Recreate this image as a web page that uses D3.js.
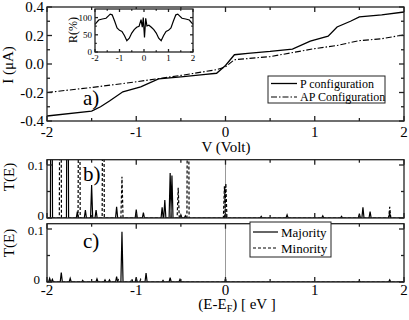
<!DOCTYPE html>
<html>
<head>
<meta charset="utf-8">
<script src="https://cdn.jsdelivr.net/npm/d3@7"></script>
<style>
  body { margin: 0; background: #fff; }
  svg { display: block; }
  svg text { font-family: "Liberation Serif", "Times New Roman", "DejaVu Serif", serif; }
</style>
</head>
<body>
<div id="chart"></div>
<script>
const WIDTH = 409;
const HEIGHT = 320;

// (a) I-V curves
const pV = [-2, -1.5, -1.4, -1.3, -1.15, -0.95, -0.75, -0.5, -0.25, -0.1, 0, 0.1, 0.25, 0.5, 0.75, 0.95, 1.15, 1.25, 1.4, 1.5, 1.75, 2];
const pI = [-0.365, -0.33, -0.3, -0.26, -0.195, -0.16, -0.105, -0.09, -0.075, -0.065, -0.01, 0.065, 0.075, 0.088, 0.105, 0.16, 0.195, 0.26, 0.3, 0.33, 0.345, 0.365];
const apV = [-2, -1.5, -1, -0.5, -0.1, 0, 0.1, 0.5, 1, 1.25, 1.5, 1.75, 2];
const apI = [-0.2, -0.165, -0.125, -0.08, -0.04, -0.02, 0.03, 0.052, 0.108, 0.13, 0.164, 0.177, 0.205];

// inset R(%)
const rV = [-2, -1.85, -1.7, -1.55, -1.45, -1.38, -1.3, -1.2, -1.1, -1.0, -0.9, -0.8, -0.7, -0.6, -0.5, -0.4, -0.3, -0.2, -0.12, -0.07, -0.03, 0.02, 0.07, 0.12, 0.2, 0.3, 0.4, 0.5, 0.6, 0.7, 0.8, 0.9, 1.0, 1.1, 1.2, 1.3, 1.38, 1.45, 1.55, 1.7, 1.85, 2];
const rR = [80, 93, 96, 98, 105, 110, 108, 90, 70, 63, 60, 48, 33, 40, 55, 65, 72, 75, 94, 72, 100, 42, 98, 76, 78, 72, 65, 55, 40, 33, 48, 60, 63, 70, 90, 108, 110, 105, 98, 96, 93, 80];

// (b) T(E) peaks [energy, height]; tall ones run off the top
const majB = [[-1.95, 0.6], [-1.77, 0.6], [-1.66, 0.012], [-1.57, 0.015], [-1.5, 0.062], [-1.45, 0.015], [-1.22, 0.021], [-1.0, 0.016], [-0.92, 0.01], [-0.71, 0.02], [-0.68, 0.034], [-0.62, 0.085], [-0.6, 0.08], [-0.5, 0.006], [-0.45, 0.004], [0.0, 0.008], [0.4, 0.003], [0.69, 0.006], [1.09, 0.004], [1.3, 0.003], [1.5, 0.008], [1.54, 0.02], [1.62, 0.012], [1.84, 0.01]];
const minB = [[-1.85, 0.6], [-1.64, 0.6], [-1.37, 0.6], [-1.16, 0.078], [-0.53, 0.057], [-0.42, 0.6], [-0.012, 0.06], [0.004, 0.065], [1.84, 0.021]];
// (c)
const majC = [[-1.97, 0.007], [-1.94, 0.005], [-1.84, 0.018], [-1.74, 0.007], [-1.6, 0.003], [-1.44, 0.006], [-1.35, 0.004], [-1.3, 0.004], [-1.22, 0.01], [-1.16, 0.095], [-1.0, 0.008], [-0.89, 0.017], [-0.7, 0.003], [-0.62, 0.008], [-0.51, 0.005], [0.0, 0.004], [1.5, 0.002], [1.84, 0.004]];
const minC = [[-1.2, 0.004], [-1.05, 0.006], [-0.95, 0.005], [0.0, 0.006]];

const xTicks = [-2, -1, 0, 1, 2];
const xMinor = [-1.5, -0.5, 0.5, 1.5];
const ivTicks = [-0.4, -0.2, 0, 0.2, 0.4];
const ivMinor = [-0.3, -0.1, 0.1, 0.3];
const tTicks = [0, 0.1];
const tMinor = [0.05];
const rTicks = [0, 50, 100];
const rMinor = [25, 75];

const svg = d3.select('#chart').append('svg')
  .attr('width', WIDTH)
  .attr('height', HEIGHT)
  .attr('font-family', '"Liberation Serif", "Times New Roman", serif');

const x = d3.scaleLinear().domain([-2, 2]).range([47, 404]);
const yIV = d3.scaleLinear().domain([-0.4, 0.4]).range([121, 7]);
const yB = d3.scaleLinear().domain([0, 0.11]).range([218, 159.7]);
const yC = d3.scaleLinear().domain([0, 0.11]).range([282, 223.7]);

// frame with inward ticks on all four sides
function frame(xs, ys, xMaj, xMin, yMaj, yMin, len) {
  const [x0, x1] = xs.range();
  const [y0, y1] = ys.range();
  const g = svg.append('g').attr('stroke', '#222').attr('stroke-width', 1.3);
  g.append('rect')
    .attr('x', x0).attr('y', y1)
    .attr('width', x1 - x0).attr('height', y0 - y1)
    .attr('fill', 'none');
  const xt = xMaj.map((v) => [v, len]).concat(xMin.map((v) => [v, len * 0.6]));
  const yt = yMaj.map((v) => [v, len]).concat(yMin.map((v) => [v, len * 0.6]));
  xt.forEach(([v, l]) => {
    g.append('line').attr('x1', xs(v)).attr('x2', xs(v)).attr('y1', y0).attr('y2', y0 - l);
    g.append('line').attr('x1', xs(v)).attr('x2', xs(v)).attr('y1', y1).attr('y2', y1 + l);
  });
  yt.forEach(([v, l]) => {
    g.append('line').attr('x1', x0).attr('x2', x0 + l).attr('y1', ys(v)).attr('y2', ys(v));
    g.append('line').attr('x1', x1).attr('x2', x1 - l).attr('y1', ys(v)).attr('y2', ys(v));
  });
}

function clip(id, xs, ys) {
  const [x0, x1] = xs.range();
  const [y0, y1] = ys.range();
  svg.append('clipPath').attr('id', id).append('rect')
    .attr('x', x0).attr('y', y1).attr('width', x1 - x0).attr('height', y0 - y1);
}

function spikes(peaks, w) {
  const pts = [[-2, 0]];
  peaks.slice().sort((a, b) => a[0] - b[0])
    .forEach(([e, t]) => { pts.push([e - w, 0], [e, t], [e + w, 0]); });
  pts.push([2, 0]);
  return pts;
}

function yLabels(ys, ticks, fmt, xr, size, shift) {
  svg.append('g').selectAll('text').data(ticks).enter().append('text')
    .attr('x', (d) => (typeof xr === 'function' ? xr(d) : xr))
    .attr('y', (d) => ys(d) + (shift ? shift(d) : 0))
    .attr('dy', '0.35em')
    .attr('text-anchor', 'end')
    .attr('font-size', size)
    .text(fmt);
}

function xLabels(xs, ticks, yy, size) {
  svg.append('g').selectAll('text').data(ticks).enter().append('text')
    .attr('x', (d) => xs(d)).attr('y', yy)
    .attr('text-anchor', 'middle')
    .attr('font-size', size)
    .text((d) => String(d));
}

// ---- panel (a)
const lineIV = d3.line().x((d) => x(d[0])).y((d) => yIV(d[1]));
svg.append('path').datum(pV.map((v, i) => [v, pI[i]]))
  .attr('d', lineIV).attr('fill', 'none').attr('stroke', '#000').attr('stroke-width', 1.3);
svg.append('path').datum(apV.map((v, i) => [v, apI[i]]))
  .attr('d', lineIV).attr('fill', 'none').attr('stroke', '#000').attr('stroke-width', 1.1)
  .attr('stroke-dasharray', '6,2,1.5,2');
frame(x, yIV, xTicks, xMinor, ivTicks, ivMinor, 5);
yLabels(yIV, ivTicks, (d) => d.toFixed(1), 44, 15);
xLabels(x, xTicks, 137, 15);
svg.append('text').attr('x', 226).attr('y', 152).attr('text-anchor', 'middle')
  .attr('font-size', 15).text('V (Volt)');
svg.append('text').attr('transform', 'translate(13,65) rotate(-90)')
  .attr('text-anchor', 'middle').attr('font-size', 15).text('I (μA)');
svg.append('text').attr('x', 83).attr('y', 105).attr('font-size', 21).text('a)');

// legend (a)
const legA = svg.append('g');
legA.append('rect').attr('x', 268).attr('y', 76).attr('width', 117).attr('height', 27)
  .attr('fill', '#fff').attr('stroke', '#222').attr('stroke-width', 1);
legA.append('line').attr('x1', 271).attr('x2', 297).attr('y1', 83.5).attr('y2', 83.5)
  .attr('stroke', '#000').attr('stroke-width', 1.3);
legA.append('line').attr('x1', 271).attr('x2', 297).attr('y1', 97).attr('y2', 97)
  .attr('stroke', '#000').attr('stroke-width', 1.1).attr('stroke-dasharray', '6,2,1.5,2');
legA.append('text').attr('x', 300).attr('y', 87.5).attr('font-size', 12).text('P configuration');
legA.append('text').attr('x', 300).attr('y', 101).attr('font-size', 12).text('AP Configuration');

// inset
const xi = d3.scaleLinear().domain([-2, 2]).range([95, 193]);
const yi = d3.scaleLinear().domain([0, 125]).range([52, 9]);
svg.append('rect').attr('x', 95).attr('y', 9).attr('width', 98).attr('height', 43).attr('fill', '#fff');
svg.append('path').datum(rV.map((v, i) => [v, rR[i]]))
  .attr('d', d3.line().x((d) => xi(d[0])).y((d) => yi(d[1])))
  .attr('fill', 'none').attr('stroke', '#000').attr('stroke-width', 1.2);
frame(xi, yi, xTicks, xMinor, rTicks, rMinor, 3);
yLabels(yi, rTicks, (d) => String(d), 92, 9);
xLabels(xi, xTicks, 61, 9);
svg.append('text').attr('transform', 'translate(77,30) rotate(-90)')
  .attr('text-anchor', 'middle').attr('font-size', 12).text('R(%)');

// ---- panels (b) and (c)
const zero = svg.append('g').attr('stroke', '#999').attr('stroke-width', 1);
zero.append('line').attr('x1', x(0)).attr('x2', x(0)).attr('y1', yB.range()[1]).attr('y2', yB.range()[0]);
zero.append('line').attr('x1', x(0)).attr('x2', x(0)).attr('y1', yC.range()[1]).attr('y2', yC.range()[0]);

function tPanel(id, ys, maj, mino) {
  clip(id, x, ys);
  const line = d3.line().x((d) => x(d[0])).y((d) => ys(d[1]));
  svg.append('path').datum(spikes(mino, 0.012))
    .attr('clip-path', `url(#${id})`)
    .attr('d', line).attr('fill', 'none').attr('stroke', '#000').attr('stroke-width', 1.2)
    .attr('stroke-dasharray', '3,2');
  svg.append('path').datum(spikes(maj, 0.012))
    .attr('clip-path', `url(#${id})`)
    .attr('d', line).attr('fill', 'none').attr('stroke', '#000').attr('stroke-width', 1.2);
  frame(x, ys, xTicks, xMinor, tTicks, tMinor, 5);
}

tPanel('clipB', yB, majB, minB);
tPanel('clipC', yC, majC, minC);
const tFmt = (d) => (d === 0 ? '0' : d.toFixed(1));
yLabels(yB, tTicks, tFmt, 44, 13, (d) => (d === 0 ? -3 : 0));
yLabels(yC, tTicks, tFmt, (d) => (d === 0 ? 40 : 44), 13, (d) => (d === 0 ? -3 : 1));
xLabels(x, xTicks, 295, 15);

svg.append('text').attr('transform', 'translate(14,177) rotate(-90)')
  .attr('text-anchor', 'middle').attr('font-size', 15).text('T(E)');
svg.append('text').attr('transform', 'translate(14,243) rotate(-90)')
  .attr('text-anchor', 'middle').attr('font-size', 15).text('T(E)');
svg.append('text').attr('x', 83).attr('y', 181).attr('font-size', 21).text('b)');
svg.append('text').attr('x', 83).attr('y', 248).attr('font-size', 21).text('c)');

const xt = svg.append('text').attr('x', 237).attr('y', 309).attr('text-anchor', 'middle')
  .attr('font-size', 15);
xt.append('tspan').text('(E-E');
xt.append('tspan').attr('font-size', 10).attr('dy', 3).text('F');
xt.append('tspan').attr('dy', -3).text(') [ eV ]');

// legend (c)
const legC = svg.append('g');
legC.append('rect').attr('x', 250).attr('y', 222).attr('width', 81).attr('height', 35)
  .attr('fill', '#fff').attr('stroke', '#222').attr('stroke-width', 1);
legC.append('line').attr('x1', 253).attr('x2', 278).attr('y1', 232).attr('y2', 232)
  .attr('stroke', '#000').attr('stroke-width', 1.2);
legC.append('line').attr('x1', 253).attr('x2', 278).attr('y1', 248).attr('y2', 248)
  .attr('stroke', '#000').attr('stroke-width', 1.2).attr('stroke-dasharray', '3,2');
legC.append('text').attr('x', 281).attr('y', 236.5).attr('font-size', 13).text('Majority');
legC.append('text').attr('x', 281).attr('y', 252.5).attr('font-size', 13).text('Minority');
</script>
</body>
</html>
